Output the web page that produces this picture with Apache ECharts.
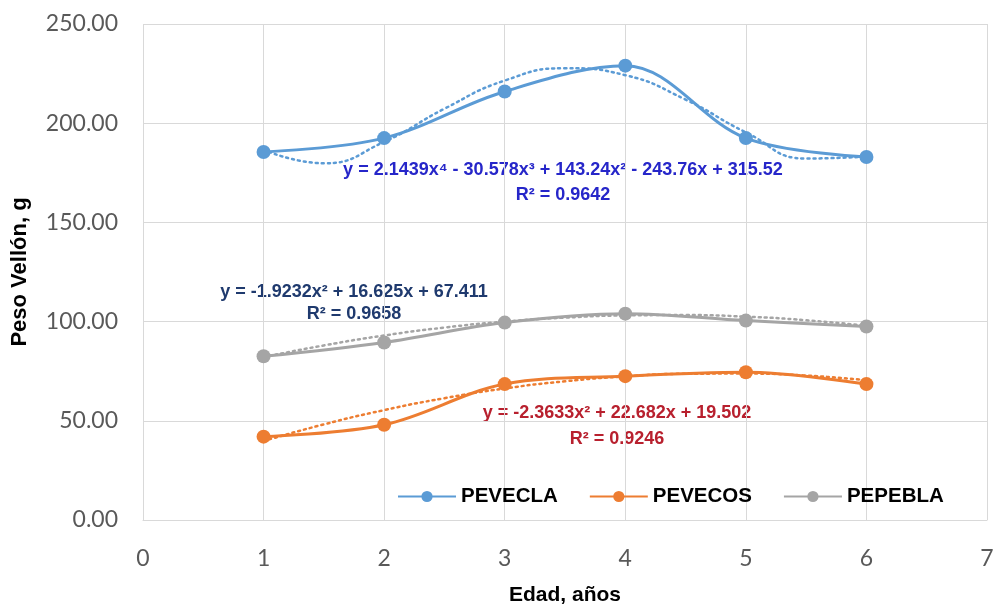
<!DOCTYPE html>
<html><head><meta charset="utf-8">
<script src="https://cdn.jsdelivr.net/npm/echarts@6/dist/echarts.min.js"></script>
<style>html,body{margin:0;padding:0;background:#fff}#c{width:995px;height:608px}</style>
</head><body><div id="c"></div>
<script>
// Observed data
const ages = [1, 2, 3, 4, 5, 6];
const pevecla = [185.5, 192.5, 216.0, 229.0, 192.5, 183.0];
const pevecos = [42.0, 48.0, 68.5, 72.5, 74.5, 68.5];
const pepebla = [82.5, 89.5, 99.5, 104.0, 100.5, 97.5];
// Trendline values (half-year steps)
const trendAges = [1, 1.5, 2, 2.5, 3, 3.5, 4, 4.5, 5, 5.5, 6];
const peveclaTrend = [186.6, 179.8, 190.6, 207.3, 221.5, 227.7, 224.2, 211.9, 195.4, 182.2, 183.2];
const pevecosTrend = [39.8, 48.2, 55.4, 61.4, 66.3, 69.9, 72.4, 73.7, 73.8, 72.8, 70.5];
const pepeblaTrend = [82.1, 88.0, 93.0, 97.0, 100.0, 102.0, 103.1, 103.3, 102.5, 100.7, 97.9];
const seriesNames = ['PEVECLA', 'PEVECOS', 'PEPEBLA'];
const colors = ['#5b9bd5', '#ed7d31', '#a5a5a5'];
const yTicks = [0, 50, 100, 150, 200, 250];
const equations = [
  ['y = 2.1439x⁴ - 30.578x³ + 143.24x² - 243.76x + 315.52', 'R² = 0.9642'],
  ['y = -2.3633x² + 22.682x + 19.502', 'R² = 0.9246'],
  ['y = -1.9232x² + 16.625x + 67.411', 'R² = 0.9658']
];
const eqColors = ['#2626c9', '#b8202e', '#1f3a6e'];

const zip = (xs, ys) => xs.map((x, i) => [x, ys[i]]);
const mains = [pevecla, pevecos, pepebla];
const trends = [peveclaTrend, pevecosTrend, pepeblaTrend];
const FONT = '"Liberation Sans", Arial, sans-serif';

const series = [];
trends.forEach((t, i) => {
  series.push({
    name: seriesNames[i] + ' tendencia', type: 'line', data: zip(trendAges, t),
    smooth: 0.5, showSymbol: false, silent: true, z: 1,
    lineStyle: { color: colors[i], width: 2.5, type: [2, 4], cap: 'round' }
  });
});
mains.forEach((d, i) => {
  series.push({
    name: seriesNames[i], type: 'line', data: zip(ages, d),
    smooth: 0.35, symbol: 'circle', symbolSize: 14, z: 3,
    itemStyle: { color: colors[i] },
    lineStyle: { color: colors[i], width: 3 }
  });
});

const eqPos = [[563, 170, 195], [617, 413, 439], [354, 292, 314]];
const graphics = [];
equations.forEach((e, i) => {
  const [cx, y1, y2] = eqPos[i];
  [e[0], e[1]].forEach((txt, k) => {
    graphics.push({
      type: 'text', x: cx, y: k === 0 ? y1 : y2,
      style: { text: txt, fill: eqColors[i], font: 'bold 18px ' + FONT, textAlign: 'center', textVerticalAlign: 'middle' }
    });
  });
});

const chart = echarts.init(document.getElementById('c'));
chart.setOption({
  animation: false,
  backgroundColor: '#fff',
  grid: { left: 143, right: 8, top: 24, bottom: 88, containLabel: false, outerBoundsMode: 'none' },
  legend: {
    data: seriesNames, left: 392, top: 481, itemWidth: 58, itemHeight: 14, itemGap: 31,
    textStyle: { fontFamily: FONT, fontWeight: 'bold', fontSize: 20.5, color: '#000' }
  },
  xAxis: {
    type: 'value', min: 0, max: 7, interval: 1,
    name: 'Edad, años', nameLocation: 'middle', nameGap: 65,
    nameTextStyle: { fontFamily: FONT, fontWeight: 'bold', fontSize: 21, color: '#000' },
    axisLine: { show: true, lineStyle: { color: '#d9d9d9', width: 1 } },
    axisTick: { show: false },
    splitLine: { show: true, lineStyle: { color: '#d9d9d9', width: 1 } },
    axisLabel: { fontFamily: 'Lato, sans-serif', fontSize: 23, color: '#595959', margin: 27 }
  },
  yAxis: {
    type: 'value', min: yTicks[0], max: yTicks[yTicks.length - 1], interval: 50,
    name: 'Peso Vellón, g', nameLocation: 'middle', nameGap: 112, nameRotate: 90,
    nameTextStyle: { fontFamily: FONT, fontWeight: 'bold', fontSize: 22, color: '#000' },
    axisLine: { show: false }, axisTick: { show: false },
    splitLine: { show: true, lineStyle: { color: '#d9d9d9', width: 1 } },
    axisLabel: { fontFamily: 'Lato, sans-serif', fontSize: 23, color: '#595959', margin: 25, formatter: v => v.toFixed(2) }
  },
  series: series,
  graphic: graphics
});
</script></body></html>
